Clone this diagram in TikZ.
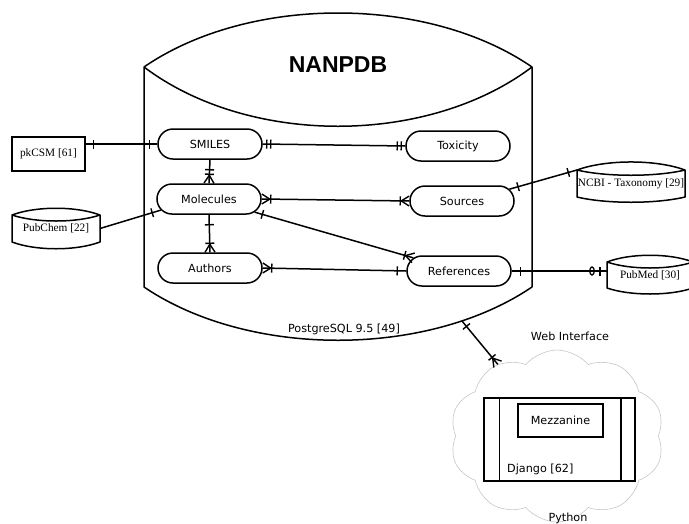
\documentclass[tikz,border=0pt]{standalone}
\usepackage{fontspec}
\setsansfont{DejaVu Sans}
\newfontfamily\srcfont{Liberation Serif}
\newfontfamily\titlefont{Liberation Sans}
\usetikzlibrary{shapes.misc,shapes.symbols,decorations.markings}

\tikzset{
  entity/.style={rounded rectangle, draw, line width=1.5pt, minimum width=104pt,
    minimum height=30pt, inner sep=0pt, font=\sffamily\fontsize{11.2}{13}\selectfont},
  plainbox/.style={rectangle, draw, line width=1.5pt, inner sep=0pt},
  storebox/.style={rectangle, inner sep=0pt, outer sep=0pt,
    font=\srcfont\fontsize{11.3}{13}\selectfont},
  dbline/.style={line width=1.5pt, line join=round},
  label/.style={font=\sffamily\fontsize{11.2}{13}\selectfont, inner sep=0pt},
  link/.style={line width=1.5pt},
  erbar/.style={postaction={decorate, decoration={markings,
    mark=at position #1 with {\draw[line width=1.4pt] (0,-4.5pt) -- (0,4.5pt);}}}},
  ercrowin/.style={postaction={decorate, decoration={markings,
    mark=at position -0.01pt with {\draw[line width=1.4pt] (0,-5pt) -- (-8pt,0) -- (0,5pt);}}}},
  ercrowout/.style={postaction={decorate, decoration={markings,
    mark=at position 0.01pt with {\draw[line width=1.4pt] (0,-5pt) -- (8pt,0) -- (0,5pt);}}}},
  erring/.style={postaction={decorate, decoration={markings,
    mark=at position #1 with {\draw[line width=1.3pt] (0,0) ellipse (2.3pt and 4pt);}}}},
  manyend/.style={ercrowin, erbar=-9pt},
  manystart/.style={ercrowout, erbar=9pt}
}

% cylinder with a lens shaped top: name, centre, width, height, top, lens, bottom, text
\newcommand\datastore[8]{%
  \node[storebox, minimum width=#3pt, minimum height=#4pt] (#1) at (#2) {#8};
  \draw[dbline] (#1.north west) .. controls +(0.27*#3,-#5) and +(-0.27*#3,-#5) .. (#1.north east)
    .. controls +(-0.27*#3,#6) and +(0.27*#3,#6) .. (#1.north west)
    -- (#1.south west) .. controls +(0.27*#3,#7) and +(-0.27*#3,#7) .. (#1.south east)
    -- (#1.north east);
}

\begin{document}
\begin{tikzpicture}[x=1pt, y=-1pt]
  \useasboundingbox (0,0) rectangle (689,523);

  % database
  \datastore{dbase}{338,177}{388}{220}{72}{79}{71}{}
  \node[font=\titlefont\bfseries\fontsize{23}{26}\selectfont] (title) at (338,65) {NANPDB};
  \node[label] (engine) at (344,329) {PostgreSQL 9.5 [49]};
  \coordinate (dbport) at (462,321);

  % tables
  \node[entity] (smiles) at (210,144) {SMILES};
  \node[entity] (molecules) at (209,199) {Molecules};
  \node[entity] (authors) at (210,268) {Authors};
  \node[entity] (toxicity) at (458,146) {Toxicity};
  \node[entity] (sources) at (462,201) {Sources};
  \node[entity] (references) at (459,271) {References};

  % outside sources
  \node[plainbox, minimum width=73pt, minimum height=34pt,
    font=\srcfont\fontsize{11.3}{13}\selectfont] (pkcsm) at (48.5,154) {pkCSM [61]};
  \datastore{pubchem}{56,228.5}{88}{27}{9}{8}{9}{PubChem [22]}
  \datastore{ncbi}{631,183.5}{108}{27}{10.7}{7}{7}{NCBI - Taxonomy [29]}
  \datastore{pubmed}{650,275}{86}{26}{9}{8}{8}{PubMed [30]}

  % relations
  \draw[link, erbar=8pt, erbar=-8pt] (smiles.west -| pkcsm.east) -- (smiles.west);
  \draw[link, erbar=4pt, erbar=8pt, erbar=-4pt, erbar=-8pt] (smiles.east) -- (toxicity.west);
  \draw[link, erbar=10pt, manyend] (smiles.south) -- (molecules.north);
  \draw[link, erbar=10pt, manyend] (molecules.south) -- (authors.north);
  \draw[link, manystart, manyend] (molecules.east) -- (sources.west);
  \draw[link, erbar=8pt, manyend] (molecules) -- (references);
  \draw[link, manystart, erbar=-9pt] (authors.east) -- (references.west);
  \draw[link, erbar=9pt, erring=-15pt, erbar=-7pt] (references.east) -- (references.east -| pubmed.west);
  \draw[link, erbar=9pt, erbar=-9pt] (sources.14) -- (ncbi.north west);
  \draw[link, erbar=-9pt] (pubchem.east) -- (molecules.193);

  % web part
  \node[cloud, draw=gray!45, line width=0.6pt, cloud puffs=10, cloud puff arc=100,
    aspect=1.45, minimum width=214pt, minimum height=172pt] (webcloud) at (557,436) {};
  \node[label] (webtitle) at (570,336) {Web Interface};
  \node[label] (pytitle) at (568,518) {Python};
  \node[plainbox, minimum width=151pt, minimum height=83pt] (django) at (559.5,439.5) {};
  \draw[line width=1.5pt] ([xshift=16pt]django.north west) -- ([xshift=16pt]django.south west);
  \draw[line width=1.5pt] ([xshift=-15pt]django.north east) -- ([xshift=-15pt]django.south east);
  \node[plainbox, minimum width=85pt, minimum height=33pt, label] (mezzanine) at (560.5,420.5) {Mezzanine};
  \node[label, anchor=west] (djangotext) at (507,469) {Django [62]};
  \draw[link, erbar=7pt, manyend] (dbport) -- (webcloud);
\end{tikzpicture}
\end{document}
